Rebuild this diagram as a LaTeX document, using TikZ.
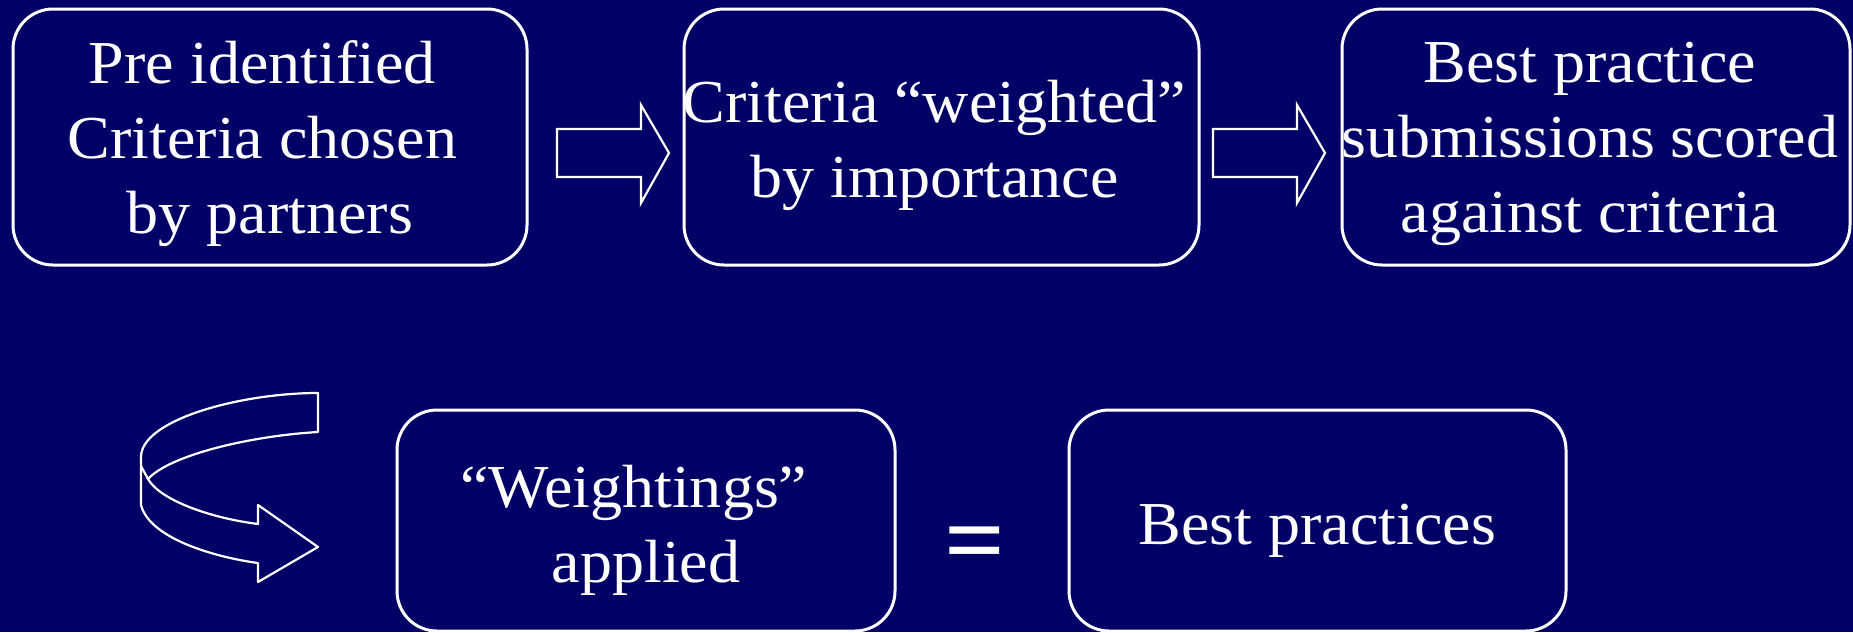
\documentclass[tikz,border=0pt]{standalone}
\usepackage{fontspec}
\setmainfont[FakeStretch=1.05]{Liberation Serif}
\definecolor{navy}{RGB}{0,0,102}
\begin{document}
\begin{tikzpicture}[x=1pt,y=-1pt,
  box/.style={draw=white, line width=3pt, rounded corners=40pt, inner sep=0pt},
  txt/.style={text=white, align=center, inner sep=0pt, font=\fontsize{61}{75}\selectfont},
  blockarrow/.style={draw=white, line width=2.2pt, line join=miter}]
\fill[navy] (0,0) rectangle (1853,632);
\useasboundingbox (0,0) rectangle (1853,632);

% top row
\node[box, minimum width=514pt, minimum height=256pt] (b1) at (270,137) {};
\node[txt] (t1) at ([yshift=-7pt]b1.center) {Pre identified\kern0.25em\\Criteria chosen\kern0.25em\\by partners};

\node[box, minimum width=515pt, minimum height=256pt] (b2) at (941.5,137) {};
\node[txt] (t2) at ([xshift=-7pt,yshift=-8pt]b2.center) {Criteria “weighted”\\by importance};

\node[box, minimum width=508pt, minimum height=256pt] (b3) at (1596,137) {};
\node[txt] (t3) at ([xshift=-6pt,yshift=-7pt]b3.center) {Best practice\\submissions scored\\against criteria};

% block arrows
\draw[blockarrow] (557,129) -- (641,129) -- (641,105) -- (669,153) -- (641,203) -- (641,177) -- (557,177) -- cycle;
\draw[blockarrow] (1213,129) -- (1297,129) -- (1297,105) -- (1325,153) -- (1297,203) -- (1297,177) -- (1213,177) -- cycle;

% curved arrow
\draw[blockarrow, line join=round]
  (318,393) .. controls (240,393) and (141,420) .. (141,457)
  -- (141,505) .. controls (150,540) and (220,558) .. (258,563)
  -- (258,582) -- (318,547) -- (258,505) -- (258,524)
  .. controls (210,518) and (160,500) .. (148,479)
  .. controls (170,455) and (250,436) .. (318,432) -- cycle;
\draw[blockarrow] (148,479) -- (141,466);

% bottom row
\node[box, minimum width=498pt, minimum height=221pt] (b4) at (646,520.5) {};
\node[txt] (t4) at ([yshift=-10pt]b4.center) {“Weightings”\kern0.4em\\applied};

\node[text=white, inner sep=0pt, anchor=base, font=\fontsize{102}{102}\selectfont\bfseries] (eq) at (975,574) {=};

\node[box, minimum width=497pt, minimum height=221pt] (b5) at (1317.5,520.5) {};
\node[txt] (t5) at ([yshift=-10pt]b5.center) {Best practices};
\end{tikzpicture}
\end{document}
